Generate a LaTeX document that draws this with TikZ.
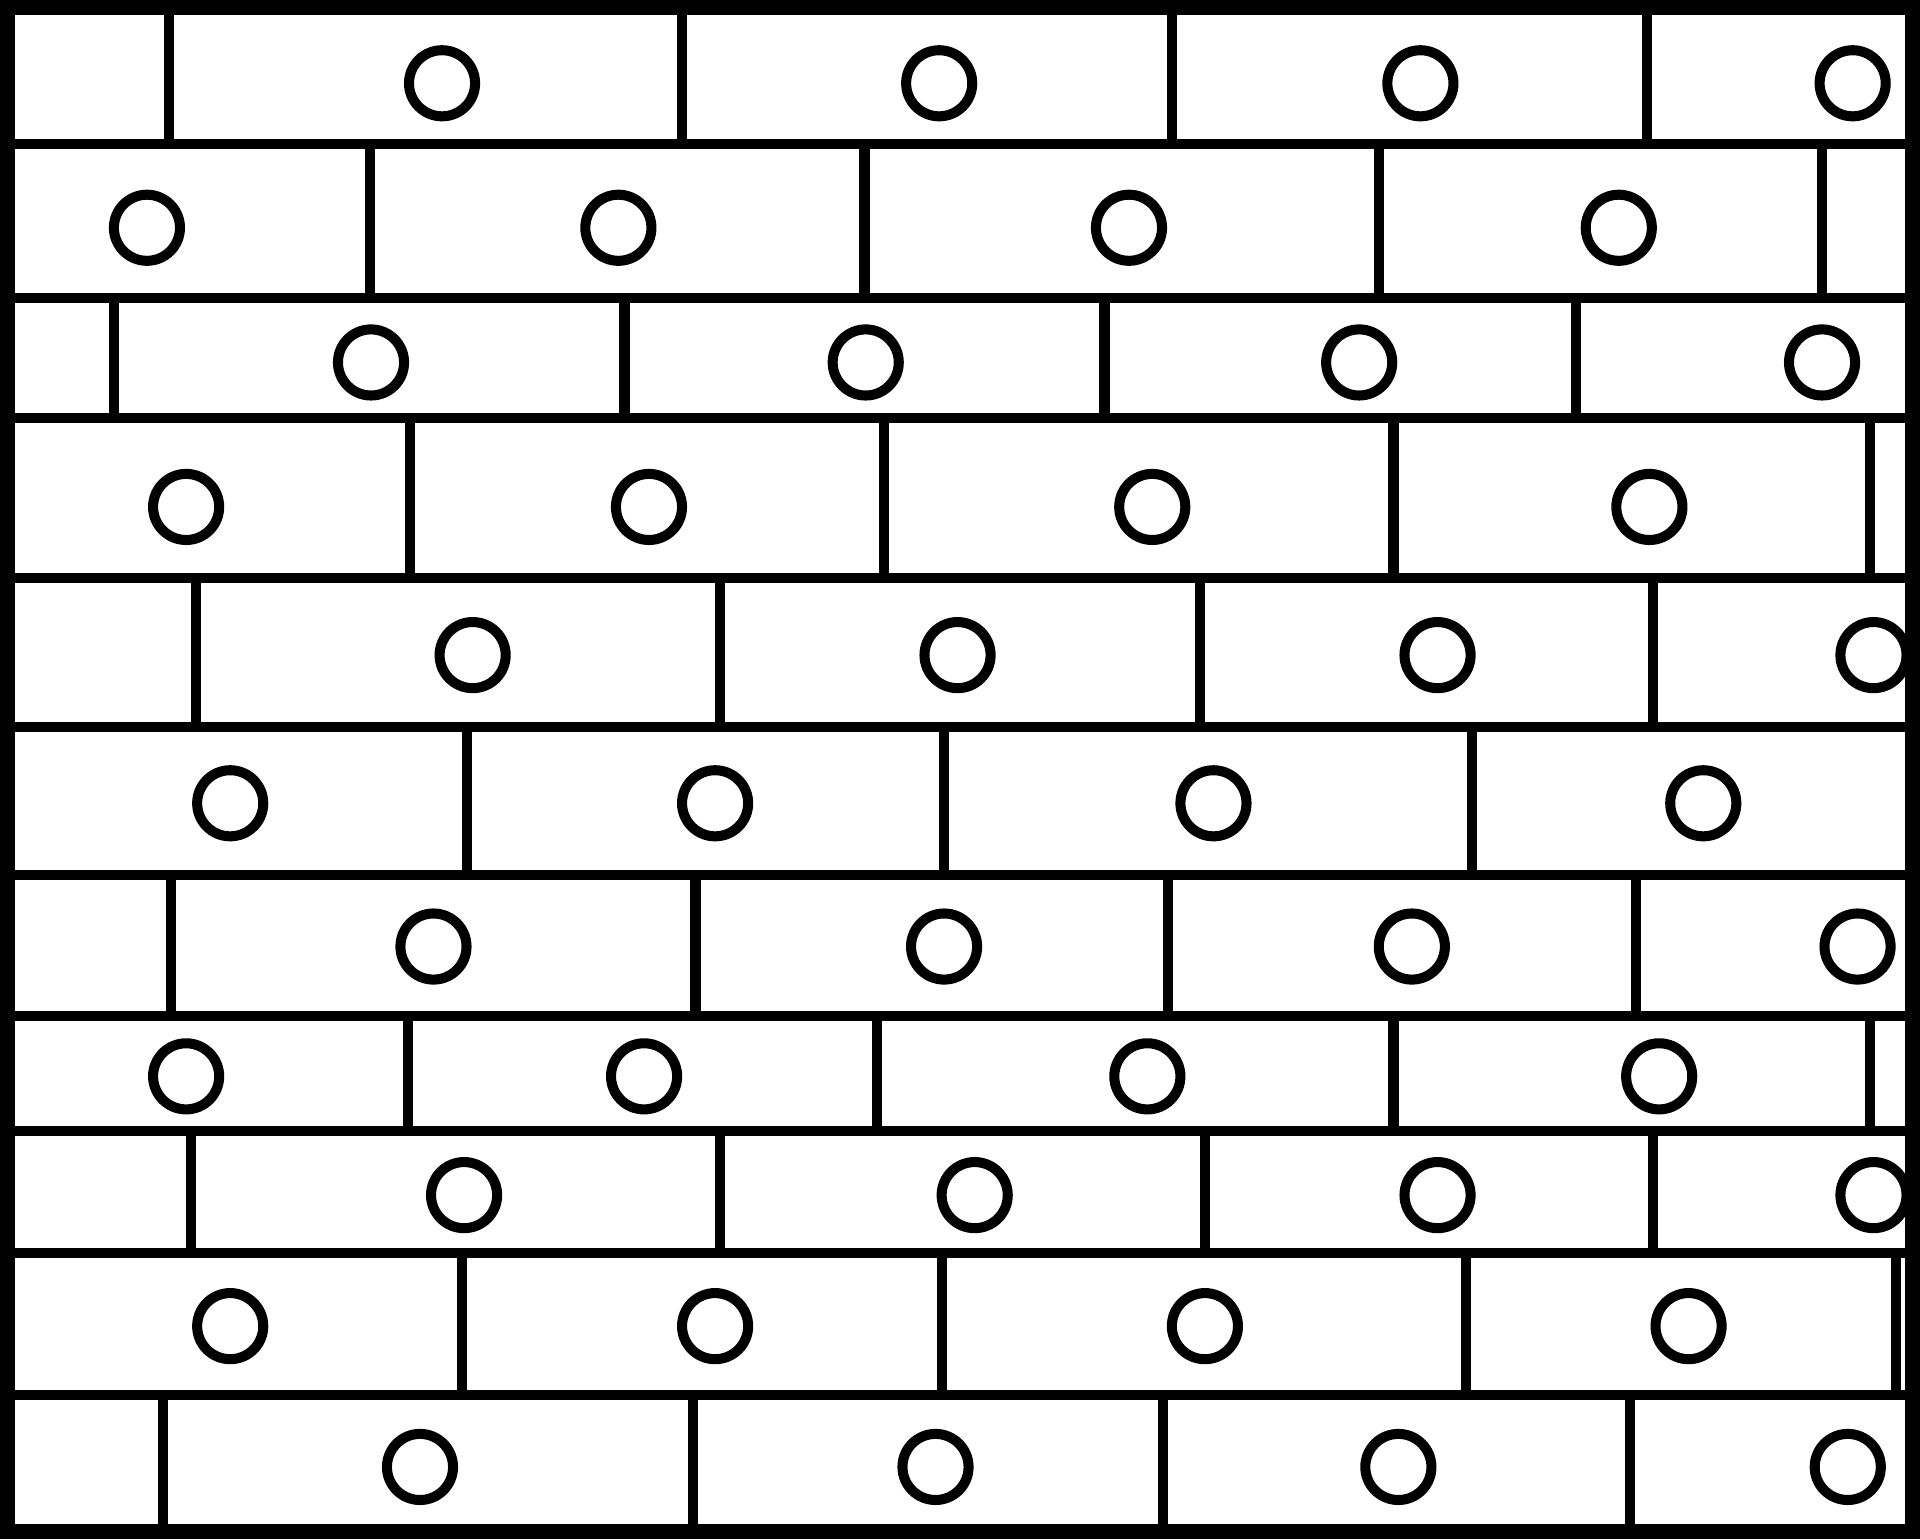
\documentclass[tikz,border=0pt]{standalone}
\usepackage{tikz}
\usepackage{xcolor}

\begin{document}
\begin{tikzpicture}[x=0.75pt,y=0.75pt,yscale=-1,xscale=1,
  mortar/.style={line width=6.15pt},
  hole/.style={line width=6.15pt},
  wall/.style={line width=9.4pt}]
            %set diagram left start at 0, and has height of 1257
            \useasboundingbox (0,0) rectangle (1568,1257);
            
            %Straight Lines: bed joints
            \draw [mortar] (0,117.5) -- (1568,117.5)(0,243.5) -- (1568,243.5)(0,341.5) -- (1568,341.5)(0,472) -- (1568,472)(0,594) -- (1568,594) ;
            \draw [mortar] (0,714.5) -- (1568,714.5)(0,830) -- (1568,830)(0,924) -- (1568,924)(0,1023.5) -- (1568,1023.5)(0,1139) -- (1568,1139) ;
            
            %Straight Lines: head joints, course 1
            \draw [mortar] (138,10) -- (138,117.5)(557,10) -- (557,117.5)(957,10) -- (957,117.5)(1345,10) -- (1345,117.5) ;
            %Straight Lines: head joints, course 2
            \draw [mortar] (302,117.5) -- (302,243.5)(706,117.5) -- (706,243.5)(1126,117.5) -- (1126,243.5)(1488,117.5) -- (1488,243.5) ;
            %Straight Lines: head joints, course 3
            \draw [mortar] (93,243.5) -- (93,341.5)(510,243.5) -- (510,341.5)(902,243.5) -- (902,341.5)(1287,243.5) -- (1287,341.5) ;
            %Straight Lines: head joints, course 4
            \draw [mortar] (335,341.5) -- (335,472)(722,341.5) -- (722,472)(1138,341.5) -- (1138,472)(1527,341.5) -- (1527,472) ;
            %Straight Lines: head joints, course 5
            \draw [mortar] (160,472) -- (160,594)(588,472) -- (588,594)(980,472) -- (980,594)(1350,472) -- (1350,594) ;
            %Straight Lines: head joints, course 6
            \draw [mortar] (381,594) -- (381,714.5)(771,594) -- (771,714.5)(1202,594) -- (1202,714.5) ;
            %Straight Lines: head joints, course 7
            \draw [mortar] (140,714.5) -- (140,830)(568,714.5) -- (568,830)(954,714.5) -- (954,830)(1336,714.5) -- (1336,830) ;
            %Straight Lines: head joints, course 8
            \draw [mortar] (333,830) -- (333,924)(716,830) -- (716,924)(1138,830) -- (1138,924)(1527,830) -- (1527,924) ;
            %Straight Lines: head joints, course 9
            \draw [mortar] (156,924) -- (156,1023.5)(588,924) -- (588,1023.5)(984,924) -- (984,1023.5)(1350,924) -- (1350,1023.5) ;
            %Straight Lines: head joints, course 10
            \draw [mortar] (377,1023.5) -- (377,1139)(769,1023.5) -- (769,1139)(1197,1023.5) -- (1197,1139)(1548,1023.5) -- (1548,1139) ;
            %Straight Lines: head joints, course 11
            \draw [mortar] (133,1139) -- (133,1250)(566,1139) -- (566,1250)(950,1139) -- (950,1250)(1331,1139) -- (1331,1250) ;
            
            %Shape: Circle, holes of each course
            \draw [hole] (361,68) circle (27) (767,68) circle (27) (1160,68) circle (27) (1513,68) circle (27) ;
            \draw [hole] (120,186) circle (27) (505,186) circle (27) (922,186) circle (27) (1322,186) circle (27) ;
            \draw [hole] (303,296) circle (27) (707,296) circle (27) (1110,296) circle (27) (1488,296) circle (27) ;
            \draw [hole] (152,414) circle (27) (530,414) circle (27) (941,414) circle (27) (1347,414) circle (27) ;
            \draw [hole] (386,535) circle (27) (782,535) circle (27) (1174,535) circle (27) (1530,535) circle (27) ;
            \draw [hole] (188,656) circle (27) (584,656) circle (27) (991,656) circle (27) (1391,656) circle (27) ;
            \draw [hole] (354,773) circle (27) (771,773) circle (27) (1153,773) circle (27) (1517,773) circle (27) ;
            \draw [hole] (152,879) circle (27) (526,879) circle (27) (937,879) circle (27) (1355,879) circle (27) ;
            \draw [hole] (379,976) circle (27) (796,976) circle (27) (1174,976) circle (27) (1530,976) circle (27) ;
            \draw [hole] (188,1083) circle (27) (584,1083) circle (27) (984,1083) circle (27) (1379,1083) circle (27) ;
            \draw [hole] (343,1198) circle (27) (764,1198) circle (27) (1142,1198) circle (27) (1509,1198) circle (27) ;
            
            %Shape: Rectangle, outer frame
            \draw [wall] (6.25,6.25) -- (1561.75,6.25) -- (1561.75,1250.75) -- (6.25,1250.75) -- cycle ;
            
\end{tikzpicture}
\end{document}
